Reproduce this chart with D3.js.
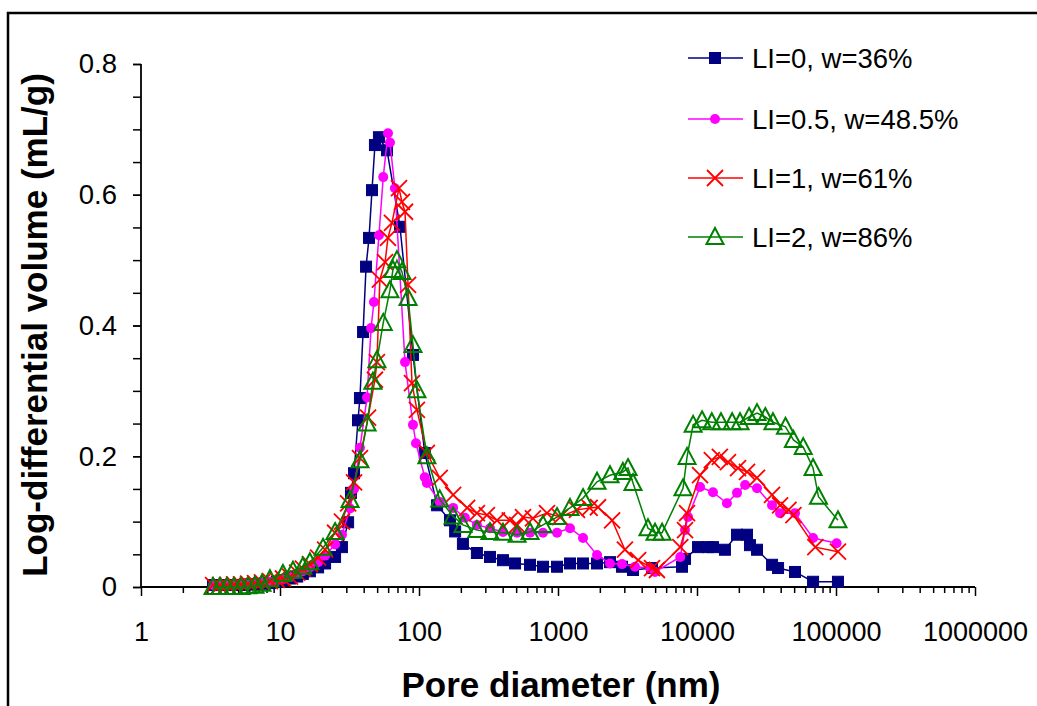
<!DOCTYPE html>
<html>
<head>
<meta charset="utf-8">
<script src="https://cdn.jsdelivr.net/npm/d3@7"></script>
<style>
html,body{margin:0;padding:0;background:#fff;}
svg{display:block;font-family:"Liberation Sans",Arial,sans-serif;}
</style>
</head>
<body>
<svg id="chart" width="1037" height="706"></svg>
<script>
// ---------- data ----------
const seriesNames = ["LI=0, w=36%", "LI=0.5, w=48.5%", "LI=1, w=61%", "LI=2, w=86%"];
const xTickLabels = ["1","10","100","1000","10000","100000","1000000"];
const yTickLabels = ["0","0.2","0.4","0.6","0.8"];

const diam0 = [3.3,3.7,4.16,4.67,5.24,5.89,6.61,7.42,8.47,9.5,10.5,11.8,13.3,14.6,16.4,18.8,21.1,24.9,27.9,30.9,32.4,34.1,36.4,37.6,39.6,41.6,43.7,45.9,48.2,51.5,58.9,73,90.5,110,135,167,182,207,261,324,402,491,629,780,984,1220,1514,1909,2367,2886,3465,4747,7800,8200,10170,12000,13030,15890,19400,22900,24050,27030,34660,38300,50700,68400,103300];
const vol0  = [0.003,0.003,0.003,0.003,0.003,0.004,0.004,0.005,0.006,0.008,0.010,0.013,0.016,0.020,0.024,0.030,0.036,0.046,0.061,0.099,0.144,0.174,0.255,0.289,0.390,0.490,0.534,0.607,0.676,0.688,0.668,0.551,0.355,0.205,0.125,0.102,0.085,0.066,0.052,0.046,0.041,0.036,0.034,0.031,0.031,0.036,0.036,0.036,0.038,0.031,0.026,0.029,0.031,0.043,0.061,0.061,0.061,0.057,0.080,0.080,0.064,0.057,0.034,0.029,0.023,0.008,0.008];

const diam1 = [3.3,3.7,4.16,4.67,5.24,5.89,6.61,7.42,8.47,9.5,10.5,11.8,13.3,14.6,16.4,18.8,21.1,24.9,27.9,31.9,34.1,37.6,42.3,45.2,47.4,51.5,55.3,59.8,61.8,67.1,79.3,90.5,95.1,110,114,141,176,214,261,324,402,508,629,780,984,1220,1514,1909,2367,2886,3580,4590,4990,7580,8200,8620,10520,13030,16420,19400,22200,27030,34660,39600,50700,68400,101000];
const vol1  = [0.003,0.003,0.003,0.004,0.004,0.005,0.005,0.006,0.008,0.010,0.012,0.015,0.020,0.024,0.030,0.038,0.048,0.065,0.080,0.120,0.150,0.213,0.290,0.396,0.436,0.538,0.627,0.694,0.680,0.610,0.344,0.248,0.220,0.168,0.159,0.130,0.121,0.106,0.095,0.090,0.084,0.083,0.083,0.083,0.083,0.090,0.075,0.049,0.036,0.035,0.031,0.029,0.023,0.046,0.087,0.107,0.153,0.145,0.128,0.144,0.156,0.151,0.125,0.113,0.113,0.075,0.067];

const diam2 = [3.3,3.7,4.16,4.67,5.24,5.89,6.61,7.42,8.47,9.5,10.5,11.8,13.3,14.6,16.4,18.8,21.1,24.9,27.9,30.9,34.1,37.6,43.0,48.2,49.8,52.3,57.0,59.8,63.9,71.8,75.4,79.3,83.4,89,96.6,114,141,176,222,261,308,364,450,508,560,660,833,1036,1370,1690,1940,2450,3030,3770,4747,5150,7580,8200,8480,10520,12780,14600,16700,19730,22900,27030,34660,39600,45500,49400,71000,103300];
const vol2  = [0.003,0.003,0.003,0.004,0.004,0.005,0.006,0.007,0.009,0.011,0.013,0.016,0.022,0.028,0.035,0.045,0.057,0.083,0.100,0.128,0.160,0.197,0.259,0.317,0.344,0.470,0.497,0.534,0.557,0.610,0.589,0.574,0.462,0.312,0.271,0.205,0.167,0.141,0.121,0.113,0.110,0.102,0.102,0.095,0.107,0.105,0.113,0.107,0.118,0.121,0.122,0.102,0.057,0.041,0.029,0.026,0.061,0.087,0.113,0.171,0.194,0.199,0.191,0.182,0.176,0.167,0.141,0.125,0.118,0.110,0.061,0.054];

const diam3 = [3.3,3.7,4.16,4.67,5.24,5.89,6.61,7.42,8.47,10.5,12.4,14.6,16.4,20.4,24.9,31.9,37.6,42.3,46.6,49.8,55.3,61.8,64.9,69.4,75.4,83.4,90.5,96.6,114,141,176,207,261,324,402,508,629,780,984,1220,1514,1909,2367,2930,3190,3465,4440,4990,5610,7930,8480,9380,10870,12780,14880,17900,20400,23700,27030,31000,35200,43300,49400,58100,68400,74800,103300];
const vol3  = [0.000,0.000,0.000,0.000,0.000,0.001,0.002,0.005,0.012,0.020,0.025,0.031,0.038,0.060,0.084,0.133,0.194,0.250,0.314,0.347,0.404,0.454,0.485,0.500,0.482,0.442,0.370,0.301,0.200,0.134,0.108,0.095,0.087,0.084,0.083,0.080,0.084,0.095,0.107,0.121,0.136,0.161,0.171,0.176,0.182,0.159,0.090,0.083,0.083,0.151,0.199,0.248,0.255,0.252,0.252,0.252,0.252,0.260,0.266,0.260,0.252,0.245,0.225,0.214,0.182,0.138,0.102];

const seriesColors = ["#000080","#FF00FF","#FF0000","#008000"];
const seriesShapes = ["square","circle","cross","triangle"];

// ---------- chart ----------
const svg = d3.select("#chart");
const x = d3.scaleLog().domain([1, 1e6]).range([141, 975]);
const y = d3.scaleLinear().domain([0, 0.8]).range([587, 64]);

// outer frame
svg.append("rect").attr("x", 8).attr("y", 13).attr("width", 1200).attr("height", 900)
  .attr("fill", "none").attr("stroke", "#000").attr("stroke-width", 2.5);

// x axis: minor ticks
const minorX = [];
for (let e = 0; e < 6; e++) for (let m = 2; m <= 9; m++) minorX.push(m * Math.pow(10, e));
svg.append("g").attr("transform", "translate(0,587)")
  .call(d3.axisBottom(x).tickValues(minorX).tickSize(6).tickFormat(""))
  .call(g => g.select(".domain").remove())
  .call(g => g.selectAll("line").attr("stroke", "#000").attr("stroke-width", 1.5));
// x axis: major ticks + labels
const gx = svg.append("g").attr("transform", "translate(0,587)")
  .call(d3.axisBottom(x).tickValues(xTickLabels.map(Number)).tickSize(9).tickPadding(26)
    .tickFormat((d, i) => xTickLabels[i]));
gx.select(".domain").attr("stroke", "#000").attr("stroke-width", 1.8).attr("d", "M141,0H975");
gx.selectAll("line").attr("stroke", "#000").attr("stroke-width", 1.5);
gx.selectAll("text").attr("font-size", 27).attr("fill", "#000").attr("font-family", "Liberation Sans, Arial, sans-serif");

// y axis
const minorY = d3.range(0, 0.8001, 0.05);
svg.append("g").attr("transform", "translate(141,0)")
  .call(d3.axisLeft(y).tickValues(minorY).tickSize(8).tickFormat(""))
  .call(g => g.select(".domain").remove())
  .call(g => g.selectAll("line").attr("stroke", "#000").attr("stroke-width", 1.5));
const gy = svg.append("g").attr("transform", "translate(141,0)")
  .call(d3.axisLeft(y).tickValues(yTickLabels.map(Number)).tickSize(8).tickPadding(16)
    .tickFormat((d, i) => yTickLabels[i]));
gy.select(".domain").attr("stroke", "#000").attr("stroke-width", 1.8).attr("d", "M0,64V587");
gy.selectAll("line").attr("stroke", "#000").attr("stroke-width", 1.5);
gy.selectAll("text").attr("font-size", 27.5).attr("fill", "#000").attr("font-family", "Liberation Sans, Arial, sans-serif");

// titles
svg.append("text").attr("x", 561).attr("y", 697).attr("text-anchor", "middle")
  .attr("font-size", 35).attr("font-weight", "bold").text("Pore diameter (nm)");
svg.append("text").attr("transform", "translate(47,325) rotate(-90)").attr("text-anchor", "middle")
  .attr("font-size", 35).attr("font-weight", "bold").text("Log-differential volume (mL/g)");

// marker drawing
function drawMarker(g, shape, color, cx, cy) {
  if (shape === "square") {
    g.append("rect").attr("x", cx - 5.5).attr("y", cy - 5.5).attr("width", 11).attr("height", 11)
      .attr("fill", color).attr("stroke", color).attr("stroke-width", 1);
  } else if (shape === "circle") {
    g.append("circle").attr("cx", cx).attr("cy", cy).attr("r", 5).attr("fill", color);
  } else if (shape === "cross") {
    const s = 8;
    g.append("path").attr("d", `M${cx - s},${cy - s}L${cx + s},${cy + s}M${cx - s},${cy + s}L${cx + s},${cy - s}`)
      .attr("stroke", color).attr("stroke-width", 1.8).attr("fill", "none");
  } else if (shape === "triangle") {
    g.append("path").attr("d", `M${cx},${cy - 9}L${cx + 8.5},${cy + 7}L${cx - 8.5},${cy + 7}Z`)
      .attr("stroke", color).attr("stroke-width", 2).attr("fill", "none");
  }
}

const allSeries = [[diam0, vol0], [diam1, vol1], [diam2, vol2], [diam3, vol3]];
const line = d3.line().x(d => x(d[0])).y(d => y(d[1]));

allSeries.forEach(([ds, vs], i) => {
  const pts = ds.map((d, j) => [d, vs[j]]);
  const g = svg.append("g");
  g.append("path").datum(pts).attr("d", line).attr("fill", "none")
    .attr("stroke", seriesColors[i]).attr("stroke-width", 1.5);
  pts.forEach(p => drawMarker(g, seriesShapes[i], seriesColors[i], x(p[0]), y(p[1])));
});

// legend
const legRows = [58, 119, 178, 237];
seriesNames.forEach((name, i) => {
  const g = svg.append("g");
  g.append("line").attr("x1", 688).attr("x2", 743).attr("y1", legRows[i]).attr("y2", legRows[i])
    .attr("stroke", seriesColors[i]).attr("stroke-width", 1.5);
  drawMarker(g, seriesShapes[i], seriesColors[i], 715, legRows[i]);
  g.append("text").attr("x", 752).attr("y", legRows[i] + 9.5).attr("font-size", 27.5)
    .attr("fill", "#000").text(name);
});
</script>
</body>
</html>
